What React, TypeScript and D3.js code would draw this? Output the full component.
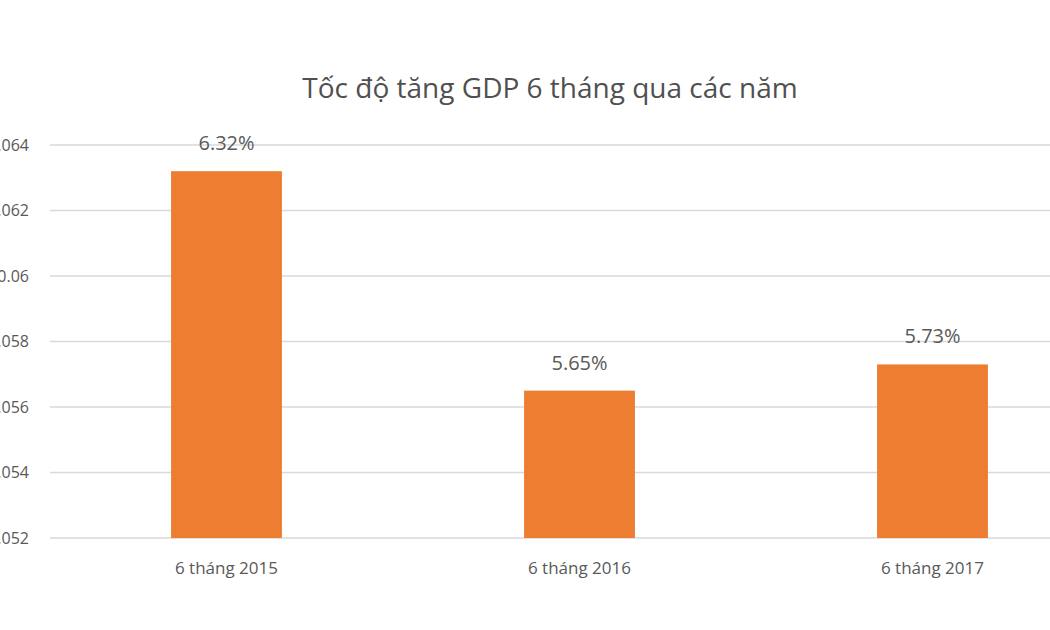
import React from "react";
import * as d3 from "d3";

const categories = ["6 tháng 2015", "6 tháng 2016", "6 tháng 2017"];
const values = [0.0632, 0.0565, 0.0573];
const valueLabels = ["6.32%", "5.65%", "5.73%"];
const yTicks = [0.052, 0.054, 0.056, 0.058, 0.06, 0.062, 0.064];
const title = "Tốc độ tăng GDP 6 tháng qua các năm";

export default function App() {
  const W = 1050, H = 630;
  const x = d3.scaleBand<string>().domain(categories).range([50, 1109]).paddingInner(0.686).paddingOuter(0.343);
  const y = d3.scaleLinear().domain([0.052, 0.064]).range([538, 145]);
  const font = "'Open Sans', 'Noto Sans', sans-serif";
  const fmt = (v: number) => String(+v.toFixed(3));
  return (
    <svg width={W} height={H} style={{ position: "absolute", left: 0, top: 0, background: "#fff" }} fontFamily={font}>
      <rect width={W} height={H} fill="#fff" />
      <text x={550} y={98} textAnchor="middle" fontSize={28} fill="#505050">{title}</text>
      {yTicks.map((t) => (
        <g key={t}>
          <line x1={50} x2={1109} y1={y(t)} y2={y(t)} stroke="#d9d9d9" strokeWidth={1.5} />
          <text x={29} y={y(t)} dy="0.35em" textAnchor="end" fontSize={16} fill="#595959">{fmt(t)}</text>
        </g>
      ))}
      {categories.map((c, i) => (
        <g key={c}>
          <rect x={x(c)} y={y(values[i])} width={x.bandwidth()} height={y(0.052) - y(values[i])} fill="#ED7D31" />
          <text x={x(c)! + x.bandwidth() / 2} y={y(values[i]) - 21} textAnchor="middle" fontSize={20} fill="#595959">{valueLabels[i]}</text>
          <text x={x(c)! + x.bandwidth() / 2} y={574} textAnchor="middle" fontSize={17} fill="#595959">{c}</text>
        </g>
      ))}
    </svg>
  );
}
